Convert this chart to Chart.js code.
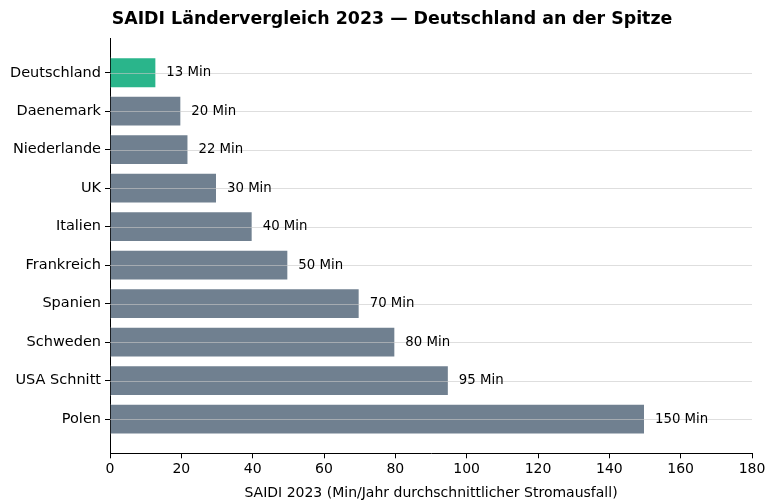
<!DOCTYPE html>
<html>
<head>
<meta charset="utf-8">
<script src="https://cdn.jsdelivr.net/npm/chart.js@4"></script>
<style>
  html, body { margin: 0; padding: 0; background: #fff; }
  #wrap { width: 765px; height: 502px; }
</style>
</head>
<body>
<div id="wrap"><canvas id="myChart" width="765" height="502"></canvas></div>
<script>
// data
var countries = ['Deutschland', 'Daenemark', 'Niederlande', 'UK', 'Italien', 'Frankreich', 'Spanien', 'Schweden', 'USA Schnitt', 'Polen'];
var saidiMinutes = [13, 20, 22, 30, 40, 50, 70, 80, 95, 150];
var xTicks = [0, 20, 40, 60, 80, 100, 120, 140, 160, 180];
var highlightColor = '#2ab58b';
var barColor = '#708090';

var fontName = '"DejaVu Sans", sans-serif';

// grid lines over the bars, value labels, title
const labelPlugin = {
    id: 'labels',
    afterDatasetsDraw(chart) {
        const ctx = chart.ctx;
        const meta = chart.getDatasetMeta(0);
        const area = chart.chartArea;
        const yScale = chart.scales.y;
        ctx.save();
        ctx.strokeStyle = 'rgba(200,200,200,0.6)';
        ctx.lineWidth = 1;
        countries.forEach((c, i) => {
            const y = Math.round(yScale.getPixelForValue(i)) + 0.5;
            ctx.beginPath();
            ctx.moveTo(area.left, y);
            ctx.lineTo(area.right, y);
            ctx.stroke();
        });
        ctx.font = '13.3px ' + fontName;
        ctx.fillStyle = '#000';
        ctx.textBaseline = 'middle';
        ctx.textAlign = 'left';
        meta.data.forEach((bar, i) => {
            ctx.fillText(saidiMinutes[i] + ' Min', bar.x + 10, bar.y);
        });
        ctx.font = 'bold 17.4px ' + fontName;
        ctx.textAlign = 'center';
        ctx.fillText('SAIDI Ländervergleich 2023 — Deutschland an der Spitze', 392, 19);
        ctx.restore();
    }
};

function createChart() {
    const ctx = document.getElementById('myChart').getContext('2d');
    const points = saidiMinutes.map((v, i) => ({ x: v, y: i }));
    new Chart(ctx, {
        type: 'bar',
        data: {
            datasets: [{
                data: points,
                backgroundColor: countries.map((c, i) => i === 0 ? highlightColor : barColor),
                borderColor: 'rgba(255,255,255,0.7)',
                borderWidth: 1,
                barPercentage: 0.8,
                categoryPercentage: 1.0
            }]
        },
        options: {
            indexAxis: 'y',
            responsive: false,
            animation: false,
            layout: { padding: { top: 38.5, right: 13, left: 0, bottom: 0 } },
            plugins: {
                legend: { display: false },
                tooltip: { enabled: false }
            },
            scales: {
                x: {
                    type: 'linear',
                    min: 0,
                    max: 180,
                    afterBuildTicks: (scale) => { scale.ticks = xTicks.map(v => ({ value: v })); },
                    afterFit: (scale) => { scale.height = 48.7; scale.paddingRight = 0; },
                    grid: {
                        display: true,
                        drawOnChartArea: false,
                        drawTicks: true,
                        tickLength: 5,
                        color: '#000'
                    },
                    border: { display: true, color: '#000', width: 1 },
                    ticks: {
                        color: '#000',
                        font: { family: fontName, size: 14 },
                        padding: 3,
                        maxRotation: 0
                    },
                    title: {
                        display: true,
                        text: 'SAIDI 2023 (Min/Jahr durchschnittlicher Stromausfall)',
                        color: '#000',
                        font: { family: fontName, size: 14 },
                        padding: { top: 1, bottom: 0 }
                    }
                },
                y: {
                    type: 'linear',
                    reverse: true,
                    offset: false,
                    min: -0.89,
                    max: 9.89,
                    afterBuildTicks: (scale) => { scale.ticks = countries.map((c, i) => ({ value: i })); },
                    afterFit: (scale) => { scale.width = 110; },
                    grid: {
                        display: true,
                        offset: false,
                        drawOnChartArea: false,
                        drawTicks: true,
                        tickLength: 5,
                        tickColor: '#000'
                    },
                    border: { display: true, color: '#000', width: 1 },
                    ticks: {
                        color: '#000',
                        font: { family: fontName, size: 14.5 },
                        padding: 4,
                        callback: (v) => countries[v]
                    }
                }
            }
        },
        plugins: [labelPlugin]
    });
}

createChart();
</script>
</body>
</html>
